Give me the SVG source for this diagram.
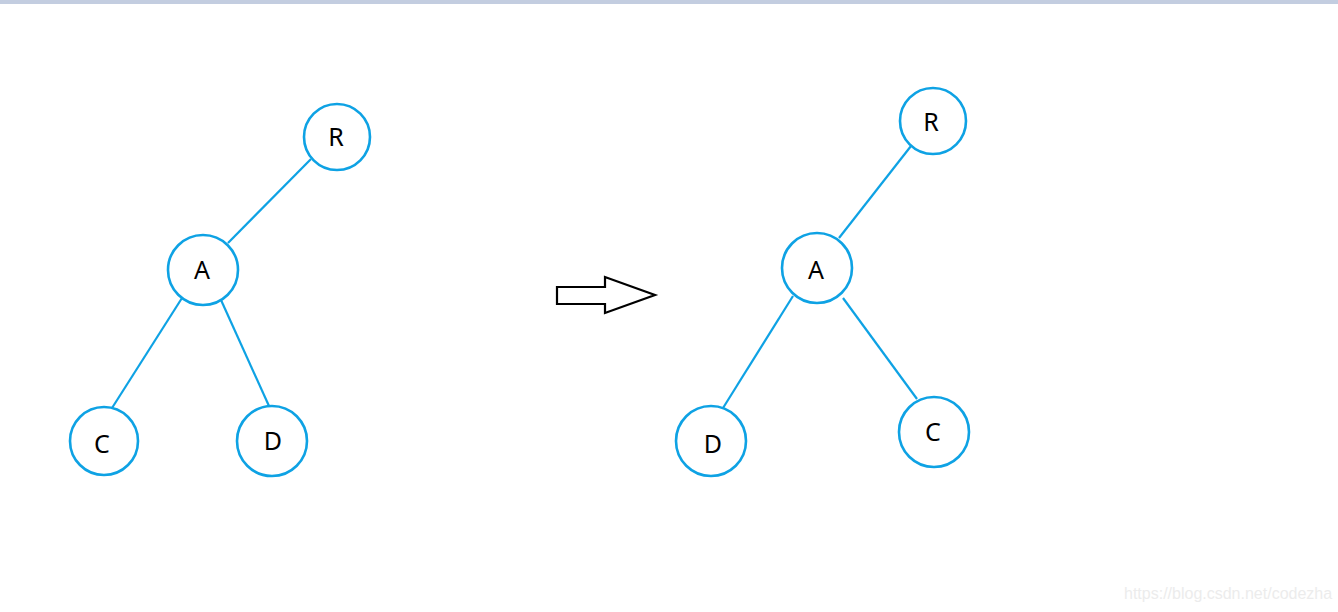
<svg xmlns="http://www.w3.org/2000/svg" width="1338" height="612" viewBox="0 0 1338 612">
<style>
.n{fill:#fff;stroke:#0ea2e4;stroke-width:2.6}
.e{stroke:#0ea2e4;stroke-width:2.2;fill:none}
.t{font-family:"Noto Sans","DejaVu Sans",sans-serif;font-size:25px;fill:#000;text-anchor:middle}
</style>
<rect x="0" y="0" width="1338" height="612" fill="#fff"/>
<rect x="0" y="0" width="1338" height="4" fill="#c3cde0"/>
<g id="connectors">
<line class="e" x1="311" y1="159" x2="228" y2="243"/>
<line class="e" x1="182" y1="298" x2="112" y2="408"/>
<line class="e" x1="221" y1="300" x2="269" y2="406"/>
<line class="e" x1="911" y1="146" x2="839" y2="238"/>
<line class="e" x1="793" y1="296" x2="723" y2="408"/>
<line class="e" x1="843" y1="298" x2="917" y2="399"/>
</g>
<g id="L_R"><circle class="n" cx="337" cy="137" r="33"/><text class="t" x="336" y="146">R</text></g>
<g id="L_A"><circle class="n" cx="203" cy="270" r="35"/><text class="t" x="202" y="279">A</text></g>
<g id="L_C"><circle class="n" cx="104" cy="441" r="34"/><text class="t" x="102" y="453">C</text></g>
<g id="L_D"><circle class="n" cx="272" cy="441" r="35"/><text class="t" x="273" y="450">D</text></g>
<g id="arrow"><polygon points="557,287 605,287 605,277 655,295 605,313 605,304 557,304" fill="#fff" stroke="#000" stroke-width="2.2"/></g>
<g id="R_R"><circle class="n" cx="933" cy="121" r="33"/><text class="t" x="931" y="131">R</text></g>
<g id="R_A"><circle class="n" cx="817" cy="268" r="35"/><text class="t" x="816" y="279">A</text></g>
<g id="R_D"><circle class="n" cx="711" cy="441" r="35"/><text class="t" x="713" y="453">D</text></g>
<g id="R_C"><circle class="n" cx="934" cy="432" r="35"/><text class="t" x="933" y="441">C</text></g>
<text x="1124" y="599" font-family="Liberation Sans, Arial, sans-serif" font-size="16" fill="#ececec">https://blog.csdn.net/codezha</text>
</svg>
